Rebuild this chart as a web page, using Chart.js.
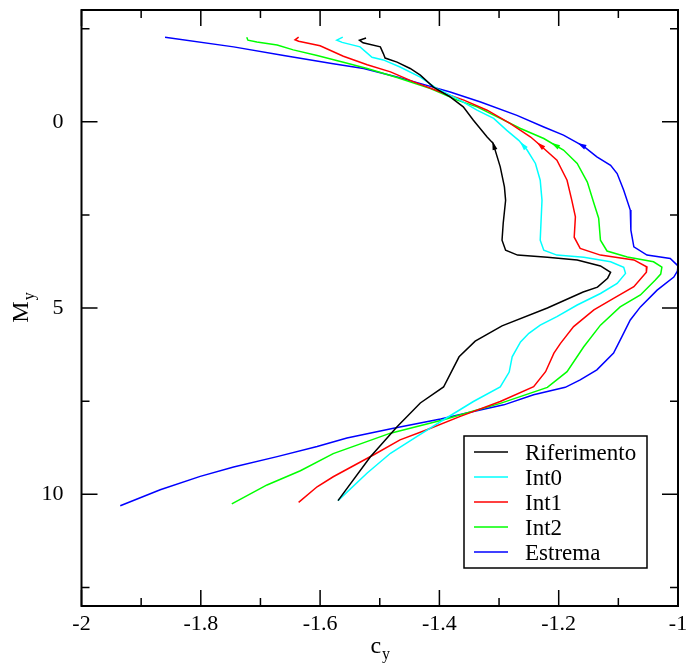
<!DOCTYPE html>
<html>
<head>
<meta charset="utf-8">
<script src="https://cdn.jsdelivr.net/npm/chart.js@4.4.0/dist/chart.umd.min.js"></script>
<style>
  body { margin: 0; background: #fff; }
  #wrap { width: 686px; height: 664px; }
</style>
</head>
<body>
<div id="wrap"><canvas id="grafico" width="686" height="664"></canvas></div>
<script>
// dati (c_y, M_y)
const serieNomi = ['Riferimento', 'Int0', 'Int1', 'Int2', 'Estrema'];
const serieColori = ['#000000', '#00ffff', '#ff0000', '#00ff00', '#0000ff'];

const rifX = [-1.523,-1.534,-1.528,-1.499,-1.494,-1.491,-1.471,-1.449,-1.432,-1.410,-1.382,-1.360,-1.343,-1.320,-1.310,-1.298,-1.291,-1.289,-1.293,-1.295,-1.289,-1.269,-1.219,-1.169,-1.130,-1.113,-1.118,-1.135,-1.159,-1.219,-1.295,-1.340,-1.367,-1.393,-1.432,-1.471,-1.516,-1.570];
const rifY = [-2.25,-2.19,-2.12,-2.01,-1.83,-1.71,-1.60,-1.43,-1.25,-0.93,-0.67,-0.40,-0.04,0.41,0.58,1.21,1.75,2.11,2.72,3.18,3.45,3.58,3.64,3.71,3.87,4.04,4.20,4.44,4.57,5.00,5.48,5.89,6.31,7.12,7.55,8.19,9.00,10.17];

const int0X = [-1.562,-1.572,-1.563,-1.533,-1.513,-1.494,-1.466,-1.432,-1.404,-1.370,-1.337,-1.309,-1.287,-1.267,-1.253,-1.239,-1.231,-1.228,-1.231,-1.225,-1.203,-1.158,-1.113,-1.091,-1.088,-1.102,-1.130,-1.169,-1.203,-1.231,-1.250,-1.264,-1.278,-1.283,-1.298,-1.343,-1.393,-1.438,-1.482,-1.521,-1.570];
const int0Y = [-2.27,-2.19,-2.13,-2.01,-1.73,-1.66,-1.47,-1.20,-0.89,-0.62,-0.31,-0.09,0.23,0.50,0.76,1.12,1.57,2.11,3.18,3.45,3.58,3.64,3.76,3.91,4.07,4.34,4.61,4.92,5.23,5.46,5.68,5.91,6.31,6.72,7.12,7.51,8.00,8.45,8.90,9.43,10.17];

const int1X = [-1.636,-1.642,-1.636,-1.600,-1.561,-1.521,-1.482,-1.443,-1.398,-1.359,-1.320,-1.281,-1.247,-1.231,-1.203,-1.186,-1.178,-1.172,-1.174,-1.164,-1.130,-1.074,-1.052,-1.053,-1.074,-1.108,-1.141,-1.175,-1.197,-1.208,-1.222,-1.242,-1.298,-1.365,-1.421,-1.466,-1.510,-1.578,-1.605,-1.636];
const int1Y = [-2.27,-2.20,-2.16,-2.04,-1.76,-1.53,-1.34,-1.07,-0.80,-0.58,-0.31,0.05,0.41,0.63,1.03,1.57,2.11,2.55,3.10,3.40,3.58,3.71,3.90,4.04,4.43,4.74,5.05,5.50,5.95,6.21,6.71,7.11,7.51,7.91,8.27,8.54,8.94,9.53,9.80,10.22];

const int2X = [-1.723,-1.721,-1.706,-1.672,-1.645,-1.605,-1.561,-1.521,-1.471,-1.415,-1.370,-1.337,-1.303,-1.264,-1.225,-1.192,-1.169,-1.152,-1.141,-1.133,-1.130,-1.119,-1.085,-1.041,-1.027,-1.029,-1.038,-1.063,-1.097,-1.130,-1.158,-1.186,-1.219,-1.298,-1.337,-1.393,-1.482,-1.578,-1.633,-1.689,-1.748];
const int2Y = [-2.27,-2.19,-2.14,-2.06,-1.93,-1.78,-1.60,-1.43,-1.19,-0.89,-0.58,-0.40,-0.13,0.18,0.45,0.76,1.12,1.62,2.19,2.59,3.18,3.47,3.63,3.76,3.90,4.09,4.25,4.65,4.97,5.46,6.04,6.71,7.13,7.56,7.74,8.00,8.36,8.91,9.37,9.75,10.26];

const estX = [-1.860,-1.745,-1.661,-1.578,-1.527,-1.471,-1.415,-1.382,-1.331,-1.270,-1.225,-1.192,-1.158,-1.136,-1.113,-1.102,-1.091,-1.080,-1.079,-1.074,-1.052,-1.013,-1.000,-1.001,-1.007,-1.035,-1.063,-1.080,-1.094,-1.108,-1.136,-1.164,-1.189,-1.242,-1.292,-1.343,-1.398,-1.477,-1.555,-1.605,-1.672,-1.745,-1.801,-1.868,-1.935];
const estY = [-2.27,-2.01,-1.78,-1.56,-1.43,-1.20,-0.95,-0.80,-0.53,-0.17,0.14,0.36,0.66,0.94,1.17,1.39,1.84,2.37,2.91,3.36,3.58,3.67,3.87,4.01,4.17,4.52,4.97,5.32,5.77,6.21,6.66,6.93,7.13,7.33,7.60,7.78,7.98,8.23,8.49,8.72,8.99,9.27,9.52,9.88,10.31];

const xTicks = [-2, -1.8, -1.6, -1.4, -1.2, -1];
const xMinori = [-1.9, -1.7, -1.5, -1.3, -1.1];
const yTicks = [0, 5, 10];
const yMinori = [-2.5, 2.5, 7.5, 12.5];
const yFreccia = 0.62;

const FONT = '"Liberation Serif", "Times New Roman", serif';

function punti(xs, ys) {
  return xs.map((v, i) => ({ x: v, y: ys[i] }));
}

const serie = [
  punti(rifX, rifY),
  punti(int0X, int0Y),
  punti(int1X, int1Y),
  punti(int2X, int2Y),
  punti(estX, estY)
];

// testo con pedice (es. c_y, M_y)
function scriviPedice(ctx, base, pedice, x, y, ruota) {
  ctx.save();
  ctx.translate(x, y);
  if (ruota) ctx.rotate(-Math.PI / 2);
  ctx.fillStyle = '#000';
  ctx.textBaseline = 'alphabetic';
  ctx.textAlign = 'left';
  ctx.font = '16px ' + FONT;
  const wp = ctx.measureText(pedice).width;
  ctx.font = '24px ' + FONT;
  const w = ctx.measureText(base).width;
  const x0 = -(w + wp) / 2;
  ctx.fillText(base, x0, 0);
  ctx.font = '16px ' + FONT;
  ctx.fillText(pedice, x0 + w + 1, 6);
  ctx.restore();
}

const cornice = {
  id: 'cornice',
  afterDatasetsDraw(chart) {
    const { ctx, chartArea: a, scales: { x, y } } = chart;
    ctx.save();

    // frecce sulle curve
    chart.data.datasets.forEach((ds, i) => {
      const meta = chart.getDatasetMeta(i);
      const d = ds.data;
      for (let k = 0; k < d.length - 1; k++) {
        if (d[k].y <= yFreccia && d[k + 1].y > yFreccia) {
          const t = (yFreccia - d[k].y) / (d[k + 1].y - d[k].y);
          const p0 = meta.data[k], p1 = meta.data[k + 1];
          const px = p0.x + (p1.x - p0.x) * t;
          const py = p0.y + (p1.y - p0.y) * t;
          let dx = p0.x - p1.x, dy = p0.y - p1.y;
          const n = Math.hypot(dx, dy);
          dx /= n; dy /= n;
          ctx.fillStyle = ds.borderColor;
          ctx.beginPath();
          ctx.moveTo(px + dx * 4, py + dy * 4);
          ctx.lineTo(px - dx * 5 - dy * 2.5, py - dy * 5 + dx * 2.5);
          ctx.lineTo(px - dx * 5 + dy * 2.5, py - dy * 5 - dx * 2.5);
          ctx.closePath();
          ctx.fill();
          break;
        }
      }
    });

    // tacche interne su tutti i lati
    ctx.strokeStyle = '#000';
    ctx.lineWidth = 1.5;
    ctx.beginPath();
    const tacX = (v, L) => {
      const p = x.getPixelForValue(v);
      ctx.moveTo(p, a.bottom); ctx.lineTo(p, a.bottom - L);
      ctx.moveTo(p, a.top); ctx.lineTo(p, a.top + L);
    };
    const tacY = (v, L) => {
      const p = y.getPixelForValue(v);
      ctx.moveTo(a.left, p); ctx.lineTo(a.left + L, p);
      ctx.moveTo(a.right, p); ctx.lineTo(a.right - L, p);
    };
    xTicks.forEach(v => tacX(v, 16));
    xMinori.forEach(v => tacX(v, 8));
    yTicks.forEach(v => tacY(v, 16));
    yMinori.forEach(v => tacY(v, 8));
    ctx.stroke();

    ctx.lineWidth = 2;
    ctx.strokeRect(a.left, a.top, a.right - a.left, a.bottom - a.top);

    // legenda
    const bx = a.right - 214, by = a.bottom - 170, bw = 183, bh = 132;
    ctx.fillStyle = '#fff';
    ctx.fillRect(bx, by, bw, bh);
    ctx.lineWidth = 1.5;
    ctx.strokeStyle = '#000';
    ctx.strokeRect(bx, by, bw, bh);
    ctx.font = '23px ' + FONT;
    ctx.textBaseline = 'alphabetic';
    ctx.textAlign = 'left';
    chart.data.datasets.forEach((ds, i) => {
      const ry = by + 16 + i * 25;
      ctx.strokeStyle = ds.borderColor;
      ctx.lineWidth = 1.5;
      ctx.beginPath();
      ctx.moveTo(bx + 10, ry);
      ctx.lineTo(bx + 44, ry);
      ctx.stroke();
      ctx.fillStyle = '#000';
      ctx.fillText(ds.label, bx + 61, ry + 8);
    });

    // titoli degli assi
    scriviPedice(ctx, 'c', 'y', (a.left + a.right) / 2, 653, false);
    scriviPedice(ctx, 'M', 'y', 28, (a.top + a.bottom) / 2, true);

    ctx.restore();
  }
};

const ctx = document.getElementById('grafico').getContext('2d');
new Chart(ctx, {
  type: 'scatter',
  data: {
    datasets: serie.map((s, i) => ({
      label: serieNomi[i],
      data: s,
      showLine: true,
      borderColor: serieColori[i],
      backgroundColor: serieColori[i],
      borderWidth: 1.5,
      pointRadius: 0,
      fill: false,
      tension: 0
    }))
  },
  options: {
    responsive: false,
    animation: false,
    layout: { padding: { left: 0, right: 8, top: 10, bottom: 0 } },
    plugins: { legend: { display: false }, tooltip: { enabled: false } },
    scales: {
      x: {
        type: 'linear',
        min: -2,
        max: -1,
        afterBuildTicks: s => { s.ticks = xTicks.map(v => ({ value: v })); },
        afterFit: s => { s.height = 58; s.paddingLeft = 0; s.paddingRight = 0; },
        grid: { display: false },
        border: { display: false },
        ticks: {
          padding: -3,
          color: '#000',
          maxRotation: 0,
          font: { family: FONT, size: 22 },
          callback: v => String(Math.round(v * 10) / 10)
        }
      },
      y: {
        type: 'linear',
        reverse: true,
        min: -3,
        max: 13,
        afterBuildTicks: s => { s.ticks = yTicks.map(v => ({ value: v })); },
        afterFit: s => { s.width = 81.5; s.paddingTop = 0; s.paddingBottom = 0; },
        grid: { display: false },
        border: { display: false },
        ticks: {
          padding: 10,
          color: '#000',
          font: { family: FONT, size: 22 },
          callback: v => String(v)
        }
      }
    }
  },
  plugins: [cornice]
});
</script>
</body>
</html>
